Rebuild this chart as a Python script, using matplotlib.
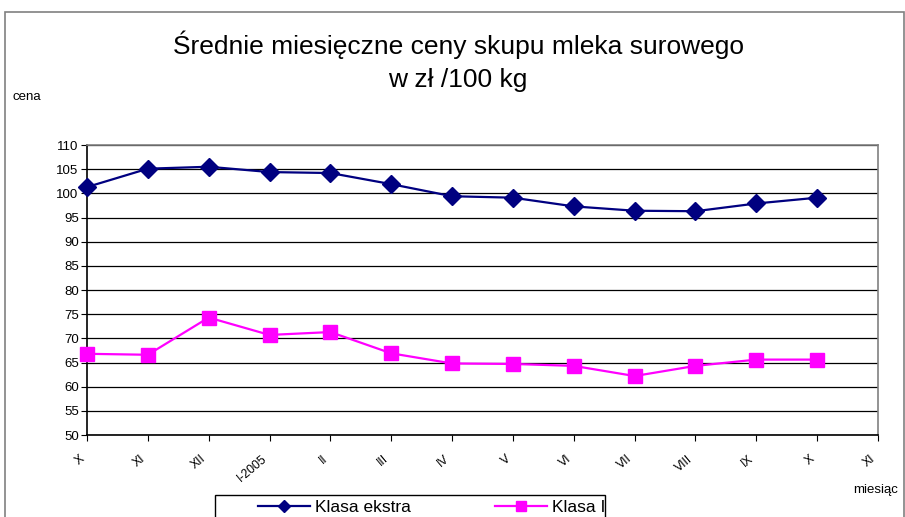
import matplotlib
matplotlib.use("Agg")
import matplotlib.pyplot as plt
import matplotlib.transforms as mtransforms
from matplotlib.patches import Rectangle

plt.rcParams['font.family'] = ['Liberation Sans', 'DejaVu Sans']

months = ['X', 'XI', 'XII', 'I-2005', 'II', 'III', 'IV', 'V', 'VI', 'VII',
          'VIII', 'IX', 'X', 'XI']
ekstra = [101.3, 105.1, 105.5, 104.4, 104.2, 101.9, 99.4, 99.1, 97.3, 96.4,
          96.3, 97.9, 99.1]
klasa1 = [66.8, 66.6, 74.3, 70.7, 71.3, 66.9, 64.8, 64.7, 64.3, 62.2,
          64.3, 65.6, 65.6]

W, H = 905, 517
fig = plt.figure(figsize=(W / 100, H / 100), dpi=100)

# outer chart frame
fig.patches.append(Rectangle((5 / W, -0.1), (904 - 5) / W, 1.1 - 12 / H,
                             transform=fig.transFigure, fill=False,
                             edgecolor='#808080', lw=1.2))

ax = fig.add_axes([87 / W, 1 - 435 / H, (878 - 87) / W, (435 - 145) / H])
x = range(len(ekstra))
ax.plot(x, ekstra, color='#000080', lw=1.6, marker='D', markersize=9,
        label='Klasa ekstra', clip_on=False, zorder=3)
ax.plot(x, klasa1, color='#FF00FF', lw=1.6, marker='s', markersize=10.5,
        label='Klasa I', clip_on=False, zorder=3)

ax.set_xlim(0, len(months) - 1)
ax.set_ylim(50, 110)
ax.set_yticks(range(50, 111, 5))
ax.set_xticks(range(len(months)))
ax.set_xticklabels([])
# rotated month labels, placed a bit left/below of each tick
off = mtransforms.ScaledTranslation(-8 / 100, -18 / 100, fig.dpi_scale_trans)
for i, m in enumerate(months):
    ax.text(i, 0, m, transform=ax.get_xaxis_transform() + off,
            rotation=40, ha='right', va='top', rotation_mode='anchor',
            fontsize=8.8, clip_on=False)
ax.tick_params(axis='y', labelsize=9.5, length=4, pad=2)
ax.tick_params(axis='x', length=4)
ax.grid(axis='y', color='black', lw=0.9)
ax.set_axisbelow(True)
for s in ['top', 'right']:
    ax.spines[s].set_color('#808080')
    ax.spines[s].set_linewidth(1.2)
for s in ['left', 'bottom']:
    ax.spines[s].set_color('black')
    ax.spines[s].set_linewidth(1.2)

fig.text(458 / W, 1 - 45 / H, 'Średnie miesięczne ceny skupu mleka surowego',
         ha='center', va='center', fontsize=19)
fig.text(458 / W, 1 - 80 / H, 'w zł /100 kg', ha='center', va='center',
         fontsize=19)
fig.text(12 / W, 1 - 97 / H, 'cena', ha='left', va='center', fontsize=9.5)
fig.text(853 / W, 1 - 490 / H, 'miesiąc', ha='left', va='center',
         fontsize=9.5)

# legend box (extends past the bottom edge, like the source)
fig.patches.append(Rectangle((215 / W, -0.1), (605 - 215) / W,
                             0.1 + 1 - 495 / H, transform=fig.transFigure,
                             fill=False, edgecolor='black', lw=1.0))
leg = fig.legend(loc='center left', bbox_to_anchor=(258 / W, 1 - 507 / H),
                 ncol=2, fontsize=12.5, frameon=False, markerscale=0.65,
                 columnspacing=4.8, handlelength=3.0, handletextpad=0.3,
                 borderpad=0, borderaxespad=0)

fig.savefig('out.png', dpi=100)
